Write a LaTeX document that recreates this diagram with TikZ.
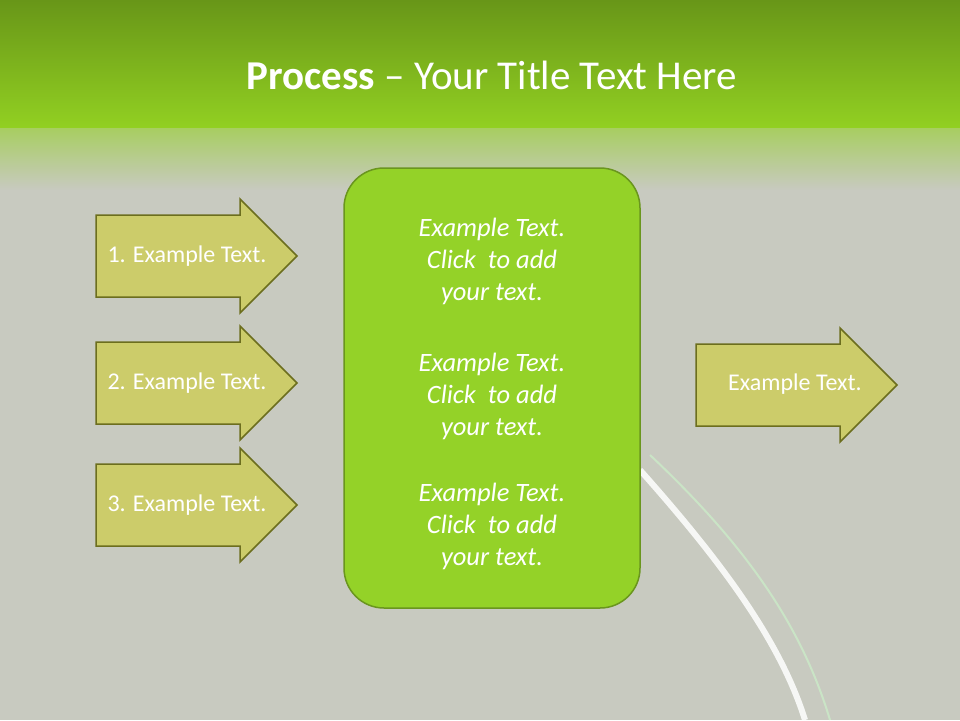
\documentclass[tikz,border=0pt]{standalone}
\usepackage{fontspec}
\setmainfont{Carlito}
\usetikzlibrary{shapes.arrows,fadings}
\definecolor{bg}{RGB}{200,202,192}
\definecolor{topg}{RGB}{104,150,24}
\definecolor{brg}{RGB}{146,208,34}
\definecolor{arrf}{RGB}{204,204,106}
\definecolor{arrd}{RGB}{108,110,30}
\definecolor{boxf}{RGB}{148,210,40}
\definecolor{boxd}{RGB}{106,150,30}
\tikzset{
 arr/.style={fill=arrf,draw=arrd,line width=1.5pt},
 lbl/.style={text=white,font=\fontsize{24}{28}\selectfont},
 ctext/.style={text=white,font=\itshape\fontsize{26.5}{32}\selectfont,align=center}
}
\begin{document}
\begin{tikzpicture}[x=1pt,y=-1pt]
\useasboundingbox (0,0) rectangle (960,720);
\fill[bg] (0,0) rectangle (960,720);
\shade[top color=topg,bottom color=brg] (0,0) rectangle (960,128);
\shade[top color=brg!60!bg,bottom color=bg] (0,128) rectangle (960,190);
\draw[white,line width=6pt,opacity=0.85] (640,470) .. controls (720,560) and (780,640) .. (805,720);
\draw[white!80!green,line width=2pt,opacity=0.5] (650,455) .. controls (740,540) and (800,620) .. (830,720);
\node[text=white,font=\fontsize{41}{45}\selectfont] (title) at (492,75) {\textbf{Process} -- Your Title Text Here};
\draw[boxd,fill=boxf,line width=1.5pt,rounded corners=40pt] (344,168) rectangle (640,608);
\node[ctext] (t1) at (492,261) {Example Text.\\Click\ \ to add\\your text.};
\node[ctext] (t2) at (492,396) {Example Text.\\Click\ \ to add\\your text.};
\node[ctext] (t3) at (492,526) {Example Text.\\Click\ \ to add\\your text.};
\foreach \c/\n in {256/1,383/2,505/3}{
 \draw[arr] (96,\c-41) -- (240,\c-41) -- (240,\c-57) -- (297,\c) -- (240,\c+57) -- (240,\c+41) -- (96,\c+41) -- cycle;
 \node[lbl] (a\n) at (187,\c) {\n. Example Text.};
}
\draw[arr] (696,344) -- (840,344) -- (840,328) -- (897,385) -- (840,442) -- (840,426) -- (696,426) -- cycle;
\node[lbl] (ar) at (795,384) {Example Text.};
\end{tikzpicture}
\end{document}
